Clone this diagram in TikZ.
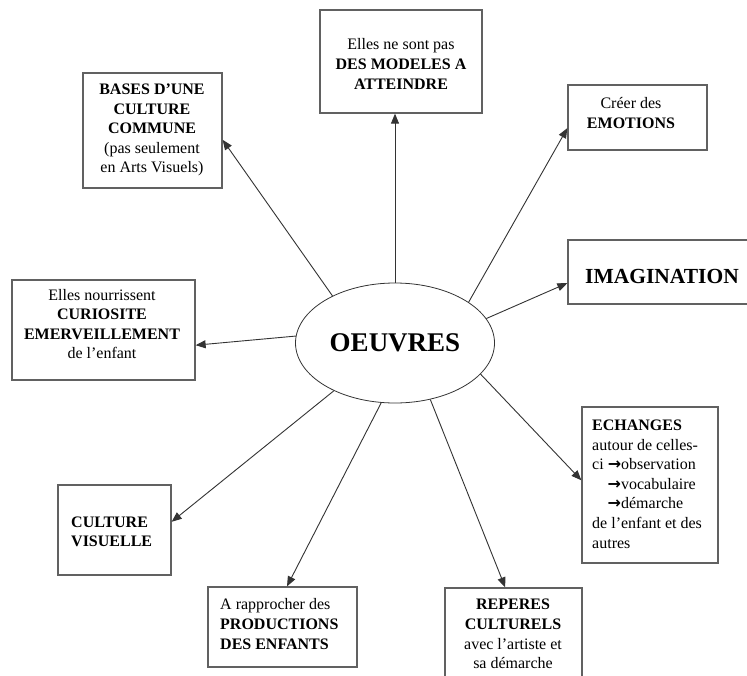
\documentclass[tikz,border=0pt]{standalone}
\usepackage{fontspec}
\setmainfont{Liberation Serif}[BoldFont={Liberation Serif Bold}]
\newfontfamily\arrowfont{DejaVu Sans}[Scale=1.0]
\newcommand{\rarr}{{\arrowfont\bfseries →}}
\usetikzlibrary{shapes.geometric,arrows.meta,calc}
\tikzset{
  boxshape/.style={draw=black!62, line width=1.3pt, rectangle, inner sep=0pt},
  txt/.style={inner sep=0pt, font=\fontsize{16}{19.6}\selectfont, text=black},
  arr/.style={draw=black!80, line width=0.9pt, -{Triangle[length=10pt,width=8pt]}},
}
\begin{document}
\begin{tikzpicture}[x=1pt,y=-1pt]
\useasboundingbox[fill=white] (0,0) rectangle (747,675);
% central ellipse
\node[draw=black!80, line width=0.8pt, ellipse, minimum width=199pt, minimum height=120pt, inner sep=0pt,
      font=\fontsize{27}{32}\selectfont\bfseries] (ell) at (395,343) {OEUVRES};
% boxes
\node[boxshape, minimum width=162pt, minimum height=103pt] (b1) at (401,61.5) {};
\node[boxshape, minimum width=139pt, minimum height=115pt] (b2) at (152.5,130.5) {};
\node[boxshape, minimum width=139pt, minimum height=65pt] (b3) at (637.5,117.5) {};
\node[boxshape, minimum width=200pt, minimum height=64pt] (b4) at (668,272) {};
\node[boxshape, minimum width=183pt, minimum height=100pt] (b5) at (103.5,330) {};
\node[boxshape, minimum width=136pt, minimum height=156pt] (b6) at (650,485) {};
\node[boxshape, minimum width=113pt, minimum height=90pt] (b7) at (114.5,530) {};
\node[boxshape, minimum width=149pt, minimum height=80pt] (b8) at (282.5,627) {};
\node[boxshape, minimum width=137pt, minimum height=110pt] (b9) at (513.5,643) {};
% texts
\node[txt, align=center] (t1) at (401,64) {Elles ne sont pas\\\textbf{DES MODELES A}\\\textbf{ATTEINDRE}};
\node[txt, align=center] (t2) at (152,130) {\textbf{BASES D’UNE}\\\textbf{CULTURE}\\\textbf{COMMUNE}\\(pas seulement\\en Arts Visuels)};
\node[txt, align=center] (t3) at (631,113) {Créer des\\\textbf{EMOTIONS}};
\node[txt, font=\fontsize{21.5}{26}\selectfont\bfseries] (t4) at (662,276) {IMAGINATION};
\node[txt, align=center] (t5) at (102,324) {Elles nourrissent\\\textbf{CURIOSITE}\\\textbf{EMERVEILLEMENT}\\de l’enfant};
\node[txt, align=left, anchor=west] (t6) at (592,484) {\textbf{ECHANGES}\\autour de celles-\\ci \rarr observation\\\hspace*{15.5pt}\rarr vocabulaire\\\hspace*{15.5pt}\rarr démarche\\de l’enfant et des\\autres};
\node[txt, align=left, anchor=west] (t7) at (71,532) {\textbf{CULTURE}\\\textbf{VISUELLE}};
\node[txt, align=left, anchor=west] (t8) at (220,624) {A rapprocher des\\\textbf{PRODUCTIONS}\\\textbf{DES ENFANTS}};
\node[txt, align=center] (t9) at (513,634) {\textbf{REPERES}\\\textbf{CULTURELS}\\avec l’artiste et\\sa démarche};
% connectors
\draw[arr] (ell.north) -- (ell.north |- b1.south);
\draw[arr] (ell.143) -- ($(b2.north east)!0.58!(b2.south east)$);
\draw[arr] (ell.29) -- ($(b3.north west)!0.66!(b3.south west)$);
\draw[arr] (ell.15) -- ($(b4.north west)!0.67!(b4.south west)$);
\draw[arr] (ell.176) -- ($(b5.north east)!0.65!(b5.south east)$);
\draw[arr] (ell.-20) -- ($(b6.north west)!0.47!(b6.south west)$);
\draw[arr] (ell.218.6) -- ($(b7.north east)!0.41!(b7.south east)$);
\draw[arr] (ell.257.6) -- ($(b8.north west)!0.53!(b8.north east)$);
\draw[arr] (ell.302.4) -- ($(b9.north west)!0.44!(b9.north east)$);
\end{tikzpicture}
\end{document}
